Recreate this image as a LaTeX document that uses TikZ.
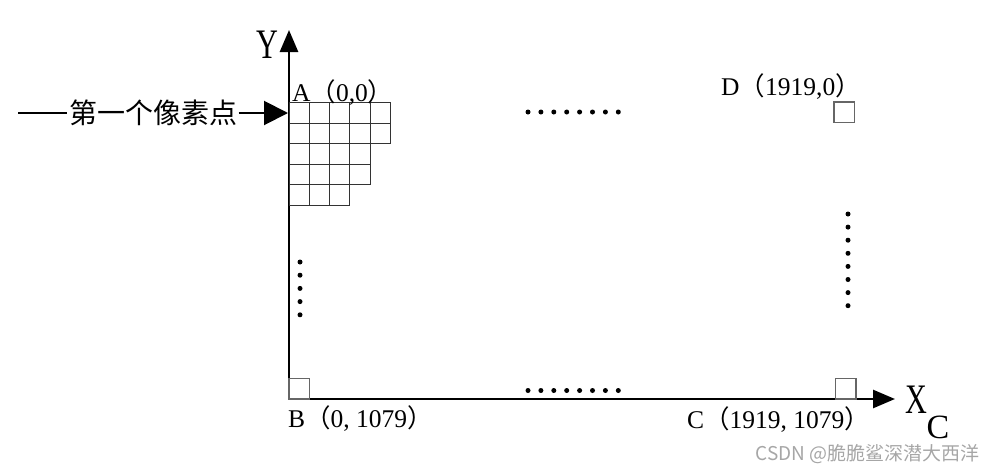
\documentclass[tikz,border=0pt]{standalone}
\usepackage{fontspec}
\setmainfont{Liberation Serif}
\newfontfamily\cjk{Noto Sans CJK SC}
\newfontfamily\narrowserif[FakeStretch=0.72]{Liberation Serif}
\usetikzlibrary{arrows.meta,positioning}
\newcommand{\lpar}{{\cjk （}}
\newcommand{\rpar}{{\cjk ）}}

\begin{document}
\begin{tikzpicture}[x=1pt, y=-1pt,
    axis/.style={line width=2.6pt},
    cell/.style={draw=black!80, line width=1pt},
    pixbox/.style={draw=black!60, line width=1.2pt, minimum size=20.5pt, inner sep=0pt, outer sep=0pt},
    coord/.style={font=\fontsize{25.5}{25.5}\selectfont, inner sep=0pt},
    axislabel/.style={font=\narrowserif\fontsize{42}{42}\selectfont, inner sep=0pt},
    dotmark/.style={fill=black}]
  \useasboundingbox (0,0) rectangle (982,469);
  % axes
  \coordinate (O) at (289,399);
  \coordinate (ytip) at (289,30);
  \coordinate (xtip) at (895,399);
  \draw[axis, {Triangle[length=22pt,width=18pt]}-{Triangle[length=22pt,width=18pt]}] (ytip) -- (O) -- (xtip);
  \node[axislabel, anchor=base] (ylab) at (267,58) {Y};
  \node[axislabel, anchor=base] (xlab) at (916,413) {X};
  \node[font=\fontsize{34}{34}\selectfont, inner sep=0pt, anchor=base] (xsub) at (938,438) {C};

  % pixel grid at the origin
  \foreach \r/\n in {0/5,1/5,2/4,3/4,4/3}
    \foreach \c in {1,...,\n}
      \draw[cell] (289+20.3*\c-20.3, 102.5+20.6*\r) rectangle ++(20.3,20.6);

  % first pixel pointer
  \node[font=\cjk\fontsize{28}{28}\selectfont, inner sep=1.5pt] (first) at (153,113) {第一个像素点};
  \coordinate (start) at (18,113);
  \coordinate (p00) at (288,113);
  \draw[line width=2pt] (start) -- (first);
  \draw[line width=2pt, -{Triangle[length=24pt,width=24pt]}] (first) -- (p00);

  % corner pixels
  \node[pixbox, anchor=south west] (pixB) at (O) {};
  \node[pixbox, anchor=south east] (pixC) at (856,399) {};
  \node[pixbox, anchor=north west] (pixD) at (834,102) {};

  % dots
  \foreach \i in {0,...,7} {
    \fill[dotmark] (528+12.9*\i,112) circle (2.5);
    \fill[dotmark] (528+12.9*\i,390.5) circle (2.5);
    \fill[dotmark] (848,214+13.1*\i) circle (2.5);
  }
  \foreach \i in {0,...,4}
    \fill[dotmark] (300,262+13.2*\i) circle (2.5);

  % corner labels
  \node[coord, anchor=base west] (A) at (292,101) {A\lpar 0,0\rpar};
  \node[coord, anchor=base west] (D) at (721,95) {D\lpar 1919,0\rpar};
  \node[coord, anchor=base west] (B) at (288,427) {B\lpar 0, 1079\rpar};
  \node[coord, anchor=base west] (C) at (687,428) {C\lpar 1919, 1079\rpar};

  \node[font=\cjk\fontsize{19}{19}\selectfont, text=black!35, anchor=base east, inner sep=0pt] (mark) at (980,460) {CSDN @脆脆鲨深潜大西洋};
\end{tikzpicture}
\end{document}
